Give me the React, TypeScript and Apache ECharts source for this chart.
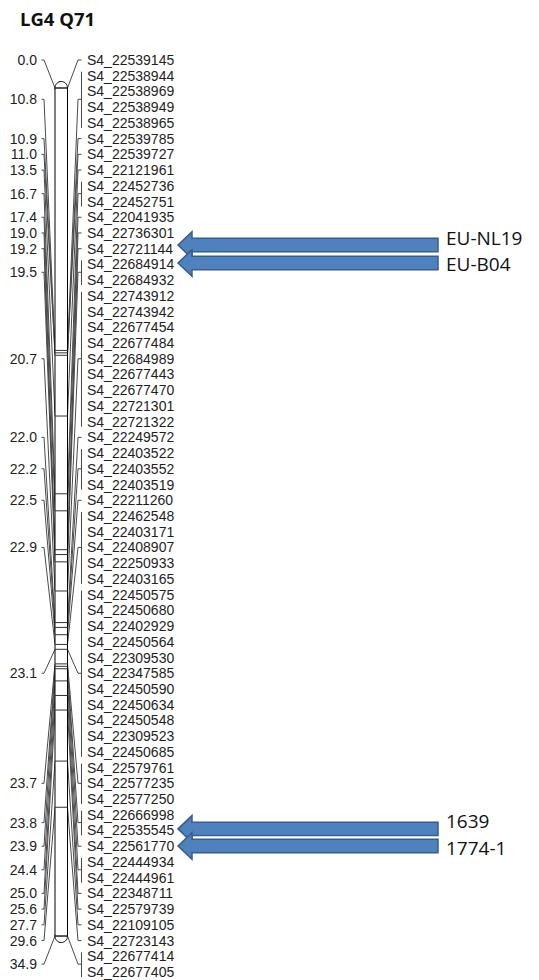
import React, { useEffect, useRef } from "react";
import * as echarts from "echarts";

const chartTitle = "LG4 Q71";

const markerNames = [
  "S4_22539145", "S4_22538944", "S4_22538969", "S4_22538949", "S4_22538965",
  "S4_22539785", "S4_22539727", "S4_22121961", "S4_22452736", "S4_22452751",
  "S4_22041935", "S4_22736301", "S4_22721144", "S4_22684914", "S4_22684932",
  "S4_22743912", "S4_22743942", "S4_22677454", "S4_22677484", "S4_22684989",
  "S4_22677443", "S4_22677470", "S4_22721301", "S4_22721322", "S4_22249572",
  "S4_22403522", "S4_22403552", "S4_22403519", "S4_22211260", "S4_22462548",
  "S4_22403171", "S4_22408907", "S4_22250933", "S4_22403165", "S4_22450575",
  "S4_22450680", "S4_22402929", "S4_22450564", "S4_22309530", "S4_22347585",
  "S4_22450590", "S4_22450634", "S4_22450548", "S4_22309523", "S4_22450685",
  "S4_22579761", "S4_22577235", "S4_22577250", "S4_22666998", "S4_22535545",
  "S4_22561770", "S4_22444934", "S4_22444961", "S4_22348711", "S4_22579739",
  "S4_22109105", "S4_22723143", "S4_22677414", "S4_22677405",
];

// loci positions (cM) and how many markers sit at each locus
const lociCM = [
  0.0, 10.8, 10.9, 11.0, 13.5, 16.7, 17.4, 19.0, 19.2, 19.5, 20.7, 22.0, 22.2,
  22.5, 22.9, 23.1, 23.7, 23.8, 23.9, 24.4, 25.0, 25.6, 27.7, 29.6, 34.9,
];
const lociMarkerCount = [
  1, 4, 1, 1, 1, 2, 1, 1, 1, 2, 9, 1, 3, 1, 5, 11, 3, 2, 1, 2, 1, 1, 1, 1, 2,
];

// QTL / annotation arrows, anchored on the marker-row scale
const arrowLabels = ["EU-NL19", "EU-B04", "1639", "1774-1"];
const arrowRows = [11.77, 12.91, 48.9, 49.99];

// ---------- layout constants ----------
const W = 539;
const H = 980;
const GRID_TOP = 60;
const GRID_BOTTOM = 8;
const CM_MIN = -1.152;
const CM_MAX = 36.38;
const ROW_MAX = markerNames.length - 1;
const BAR_L = 55;
const BAR_R = 67.5;
const CAP_RY = 6.5;
const LEFT_LABEL_X = 37;
const LEFT_TICK_A = 41.5;
const LEFT_TICK_B = 44;
const RIGHT_ELBOW = 78;
const RIGHT_BRACKET = 81.5;
const MARKER_LABEL_X = 87;
const ARROW_TIP = 178;
const ARROW_HEAD = 192;
const ARROW_END = 438;
const ARROW_HEAD_H = 13.3;
const ARROW_SHAFT_H = 6.7;
const ARROW_LABEL_X = 446;
const LINE_COLOR = "#4a4a4a";
const TEXT_COLOR = "#1e1e1e";
const LABEL_FONT = "'Liberation Sans', Arial, sans-serif";

const cmToRow = (cm: number) => ((cm - CM_MIN) / (CM_MAX - CM_MIN)) * ROW_MAX;

// groups of markers per locus
const groups: { cm: number; first: number; last: number; center: number }[] = [];
{
  let start = 0;
  lociCM.forEach((cm, i) => {
    const n = lociMarkerCount[i];
    groups.push({ cm, first: start, last: start + n - 1, center: start + (n - 1) / 2 });
    start += n;
  });
}

export default function App() {
  const ref = useRef<HTMLDivElement>(null);

  useEffect(() => {
    if (!ref.current) return;
    const chart = echarts.init(ref.current, undefined, { renderer: "svg" });

    const option: any = {
      animation: false,
      backgroundColor: "#fff",
      grid: { left: 0, right: 0, top: GRID_TOP, bottom: GRID_BOTTOM },
      xAxis: { type: "value", min: 0, max: W, show: false },
      yAxis: [
        { type: "value", min: 0, max: ROW_MAX, inverse: true, show: false },
        { type: "value", min: CM_MIN, max: CM_MAX, inverse: true, show: false },
      ],
      graphic: [
        {
          type: "text",
          x: 20,
          y: 18,
          style: {
            text: chartTitle,
            fill: "#111",
            fontFamily: "'Open Sans', sans-serif",
            fontWeight: "bold",
            fontSize: 18.5,
            verticalAlign: "middle",
          },
        },
      ],
      series: [
        // connectors + cM labels
        {
          type: "custom",
          yAxisIndex: 0,
          clip: false,
          silent: true,
          data: groups.map((g) => [g.cm, g.center, g.first, g.last]),
          renderItem: (params: any, api: any) => {
            const cm = api.value(0);
            const center = api.value(1);
            const first = api.value(2);
            const last = api.value(3);
            const px = (x: number) => api.coord([x, 0])[0];
            const py = (r: number) => api.coord([0, r])[1];
            const yc = py(cmToRow(cm));
            const yl = py(center);
            const ls = { stroke: LINE_COLOR, lineWidth: 1, fill: null };
            const children: any[] = [
              {
                type: "polyline",
                shape: { points: [[px(LEFT_TICK_A), yl], [px(LEFT_TICK_B), yl], [px(BAR_L), yc]] },
                style: ls,
              },
              {
                type: "polyline",
                shape: { points: [[px(BAR_R), yc], [px(RIGHT_ELBOW), yl], [px(RIGHT_BRACKET), yl]] },
                style: ls,
              },
              {
                type: "text",
                x: px(LEFT_LABEL_X),
                y: yl,
                style: {
                  text: cm.toFixed(1),
                  fill: TEXT_COLOR,
                  fontFamily: LABEL_FONT,
                  fontSize: 14,
                  align: "right",
                  verticalAlign: "middle",
                },
              },
            ];
            if (last > first) {
              children.push({
                type: "line",
                shape: { x1: px(RIGHT_BRACKET), y1: py(first) - 4, x2: px(RIGHT_BRACKET), y2: py(last) + 5 },
                style: ls,
              });
            }
            return { type: "group", children };
          },
        },
        // chromosome bar
        {
          type: "custom",
          yAxisIndex: 1,
          clip: false,
          silent: true,
          data: [[0, lociCM[0], lociCM[lociCM.length - 1]]],
          renderItem: (params: any, api: any) => {
            const xl = api.coord([BAR_L, 0])[0];
            const xr = api.coord([BAR_R, 0])[0];
            const yt = api.coord([0, api.value(1)])[1];
            const yb = api.coord([0, api.value(2)])[1];
            const cx = (xl + xr) / 2;
            const rx = (xr - xl) / 2;
            const st = { fill: "#fff", stroke: "#000", lineWidth: 1 };
            return {
              type: "group",
              children: [
                { type: "ellipse", shape: { cx, cy: yt, rx, ry: CAP_RY }, style: st },
                { type: "ellipse", shape: { cx, cy: yb, rx, ry: CAP_RY }, style: st },
                { type: "rect", shape: { x: xl, y: yt, width: xr - xl, height: yb - yt }, style: st },
              ],
            };
          },
        },
        // loci lines inside the bar
        {
          type: "custom",
          yAxisIndex: 1,
          clip: false,
          silent: true,
          data: lociCM.map((c) => [0, c]),
          renderItem: (params: any, api: any) => {
            const xl = api.coord([BAR_L, 0])[0];
            const xr = api.coord([BAR_R, 0])[0];
            const y = api.coord([0, api.value(1)])[1];
            return {
              type: "line",
              shape: { x1: xl, y1: y, x2: xr, y2: y },
              style: { stroke: "#333", lineWidth: 1 },
            };
          },
        },
        // marker names
        {
          type: "custom",
          yAxisIndex: 0,
          clip: false,
          silent: true,
          data: markerNames.map((n, i) => ({ name: n, value: [0, i] })),
          renderItem: (params: any, api: any) => {
            const x = api.coord([MARKER_LABEL_X, 0])[0];
            const y = api.coord([0, api.value(1)])[1];
            return {
              type: "text",
              x,
              y,
              style: {
                text: markerNames[params.dataIndex],
                fill: TEXT_COLOR,
                fontFamily: LABEL_FONT,
                fontSize: 14,
                align: "left",
                verticalAlign: "middle",
              },
            };
          },
        },
        // arrows
        {
          type: "custom",
          yAxisIndex: 0,
          clip: false,
          silent: true,
          data: arrowRows.map((r) => [0, r]),
          renderItem: (params: any, api: any) => {
            const px = (x: number) => api.coord([x, 0])[0];
            const y = api.coord([0, api.value(1)])[1];
            const tip = px(ARROW_TIP);
            const hb = px(ARROW_HEAD);
            const end = px(ARROW_END);
            const labelDy = params.dataIndex % 2 === 0 ? -7.5 : 1.5;
            return {
              type: "group",
              children: [
                {
                  type: "polygon",
                  shape: {
                    points: [
                      [tip, y],
                      [hb, y - ARROW_HEAD_H],
                      [hb, y - ARROW_SHAFT_H],
                      [end, y - ARROW_SHAFT_H],
                      [end, y + ARROW_SHAFT_H],
                      [hb, y + ARROW_SHAFT_H],
                      [hb, y + ARROW_HEAD_H],
                    ],
                  },
                  style: { fill: "#4f81bd", stroke: "#385d8a", lineWidth: 1.5 },
                },
                {
                  type: "text",
                  x: px(ARROW_LABEL_X),
                  y: y + labelDy,
                  style: {
                    text: arrowLabels[params.dataIndex],
                    fill: "#111",
                    fontFamily: "'Open Sans', sans-serif",
                    fontSize: 19,
                    lineHeight: 19,
                    align: "left",
                    verticalAlign: "middle",
                  },
                },
              ],
            };
          },
        },
      ],
    };

    chart.setOption(option);
    return () => chart.dispose();
  }, []);

  return (
    <div
      ref={ref}
      style={{ position: "fixed", left: 0, top: 0, width: W, height: H, background: "#fff" }}
    />
  );
}
